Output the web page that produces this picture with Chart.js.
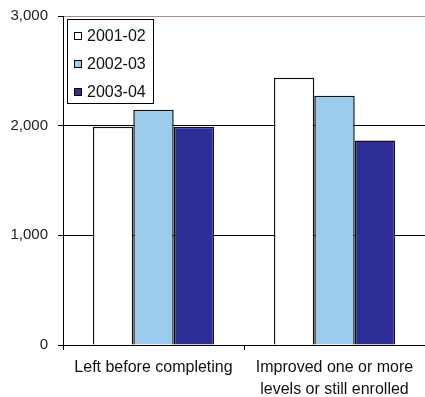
<!DOCTYPE html>
<html>
<head>
<meta charset="utf-8">
<script src="https://cdn.jsdelivr.net/npm/chart.js@4/dist/chart.umd.min.js"></script>
<style>
  html, body { margin: 0; padding: 0; background: #fff; }
  #wrap { width: 425px; height: 397px; }
</style>
</head>
<body>
<div id="wrap"><canvas id="chart" width="425" height="397"></canvas></div>
<script>
// data
const categories = [["Left before completing"], ["Improved one or more", "levels or still enrolled"]];
const seriesNames = ["2001-02", "2002-03", "2003-04"];
const values2001 = [1990, 2436];
const values2002 = [2145, 2273];
const values2003 = [1990, 1864];
const yTicks = [0, 1000, 2000, 3000];

const colors = ["#ffffff", "#9ccbeb", "#2e2e96"];
const FONT = "'Liberation Sans', Arial, sans-serif";

// boxed legend in the top-left of the plot, like the original
const boxLegend = {
  id: 'boxLegend',
  afterDraw(chart) {
    const ctx = chart.ctx;
    const x = 67, y = 19, w = 86, h = 84;
    ctx.save();
    ctx.fillStyle = '#fff';
    ctx.fillRect(x, y, w, h);
    ctx.strokeStyle = '#000';
    ctx.lineWidth = 1;
    ctx.strokeRect(x + 0.5, y + 0.5, w, h);
    ctx.font = '16px ' + FONT;
    ctx.textBaseline = 'middle';
    chart.data.datasets.forEach((ds, i) => {
      const cy = y + 17 + i * 28;
      ctx.fillStyle = ds.backgroundColor;
      ctx.fillRect(x + 7, cy - 4, 8, 8);
      ctx.strokeStyle = '#000';
      ctx.strokeRect(x + 7.5, cy - 3.5, 7, 7);
      ctx.fillStyle = '#111';
      ctx.fillText(ds.label, x + 20, cy + 1);
    });
    ctx.restore();
  }
};

new Chart(document.getElementById('chart'), {
  type: 'bar',
  data: {
    labels: categories,
    datasets: [
      { label: seriesNames[0], data: values2001, backgroundColor: colors[0] },
      { label: seriesNames[1], data: values2002, backgroundColor: colors[1] },
      { label: seriesNames[2], data: values2003, backgroundColor: colors[2] }
    ].map(d => Object.assign(d, { borderColor: '#111', borderWidth: 1.5, categoryPercentage: 0.67, barPercentage: 1 }))
  },
  options: {
    responsive: false,
    animation: false,
    layout: { padding: { top: 15, right: 0, left: 0, bottom: 0 } },
    plugins: { legend: { display: false }, tooltip: { enabled: false } },
    scales: {
      x: {
        offset: true,
        grid: { offset: true, color: 'rgba(0,0,0,0)', tickColor: '#000', tickLength: 5 },
        border: { color: '#000' },
        ticks: { color: '#111', font: { family: FONT, size: 16, lineHeight: 1.35 }, padding: 7, maxRotation: 0 },
        afterFit(scale) { scale.height = 52; }
      },
      y: {
        min: 0, max: 3000,
        afterBuildTicks(scale) { scale.ticks = yTicks.map(v => ({ value: v })); },
        grid: {
          color: c => c.tick && c.tick.value === 3000 ? '#a88a86' : (c.tick && c.tick.value === 0 ? 'rgba(0,0,0,0)' : '#000'),
          tickColor: '#000',
          tickLength: 5
        },
        border: { color: '#000' },
        ticks: {
          color: '#222',
          font: { family: FONT, size: 15, lineHeight: 0.8 },
          padding: 10,
          callback: v => v.toLocaleString('en-US')
        },
        afterFit(scale) { scale.width = 63; }
      }
    }
  },
  plugins: [boxLegend]
});
</script>
</body>
</html>
